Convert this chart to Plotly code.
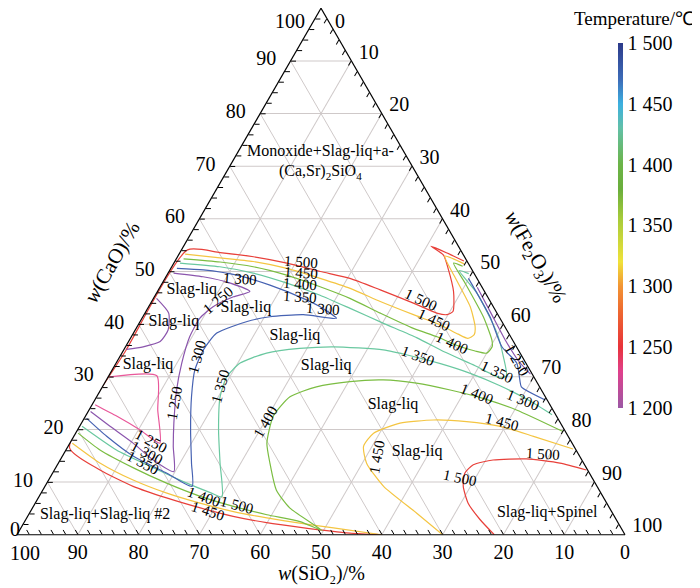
import plotly.graph_objects as go

# isotherm curves: w(CaO) and w(Fe2O3) in %, w(SiO2) is the remainder (sum = 100)
t1500_main_cao = [0, 0.3, 1.4, 2.3, 3.5, 5.1, 7.0, 9.2, 12.3, 16.5, 35.0, 54.1, 53.6, 52.8, 51.6,
                  50.0, 48.7, 46.5, 44.0, 42.1, 41.8, 42.4, 46.2, 50.6, 53.1, 54.8, 53.5, 52.0]
t1500_main_fe = [60.0, 54.6, 45.9, 39.9, 33.8, 27.6, 21.1, 14.5, 7.5, 0.4, 0.4, 1.0, 6.6, 12.5, 18.6,
                 24.9, 30.4, 36.5, 43.2, 48.0, 49.8, 50.5, 48.7, 45.6, 43.6, 40.7, 44.0, 47.5]
t1500_right_cao = [0, 2.9, 6.0, 9.2, 11.7, 13.3, 14.2, 14.4, 13.6, 12.3]
t1500_right_fe = [78.5, 74.7, 71.2, 68.8, 67.8, 68.4, 71.2, 76.6, 82.5, 87.5]

t1450_low_cao = [0, 1.3, 2.2, 3.2, 4.4, 6.0, 7.9, 10.4, 13.6, 17.4]
t1450_low_fe = [60.0, 51.4, 45.4, 39.5, 33.4, 27.1, 20.7, 13.9, 6.9, 0.4]
t1450_up_cao = [53.3, 52.6, 51.9, 50.6, 48.7, 46.8, 44.3, 41.8, 39.9, 38.1, 37.3, 38.0, 39.5, 43.3, 49.0, 52.9, 51.4]
t1450_up_fe = [1.0, 7.1, 12.9, 19.1, 25.5, 31.4, 37.6, 44.3, 49.6, 53.5, 55.5, 56.2, 55.6, 52.9, 47.5, 43.9, 47.9]
t1450_right_cao = [0, 4.1, 9.2, 13.6, 16.8, 19.3, 21.2, 21.8, 21.5, 20.6, 18.7, 16.3]
t1450_right_fe = [70.0, 63.7, 55.7, 50.7, 48.6, 49.0, 52.4, 57.6, 63.2, 69.2, 75.6, 83.3]

t1400_up_cao = [52.4, 51.8, 50.9, 49.3, 47.1, 44.9, 42.1, 39.2, 37.6, 36.1, 34.9, 34.5, 35.7, 37.0, 41.4, 47.8, 51.6, 51.0]
t1400_up_fe = [1.2, 7.5, 13.4, 19.7, 26.3, 32.3, 38.7, 45.6, 50.3, 54.0, 57.9, 60.0, 60.3, 59.6, 56.0, 49.8, 46.0, 47.8]
t1400_big_cao = [19.3, 16.1, 12.7, 9.8, 7.3, 5.4, 3.8, 2.5, 0.8, 5.1, 8.5, 13.6, 17.4, 22.5, 26.2, 28.1,
                 29.1, 29.4, 28.8, 27.5, 25.9, 23.7, 19.6]
t1400_big_fe = [0.4, 5.6, 12.8, 19.7, 26.5, 32.9, 39.2, 45.3, 49.8, 42.3, 38.4, 34.8, 32.4, 30.9, 31.8, 35.2,
                40.2, 45.5, 51.3, 57.5, 63.7, 70.3, 80.0]

t1350_up_cao = [51.6, 50.9, 49.7, 47.8, 45.5, 43.0, 40.2, 37.4, 34.7, 32.1, 29.8, 30.2, 33.8, 38.3, 45.9, 50.2, 49.6]
t1350_up_fe = [1.0, 7.9, 14.0, 20.5, 27.1, 33.3, 40.1, 47.1, 53.0, 59.3, 64.6, 65.4, 63.1, 59.8, 52.7, 47.6, 49.5]
t1350_mid_cao = [20.6, 16.1, 13.0, 10.1, 8.0, 7.2, 13.6, 19.9, 26.2, 30.0, 32.6, 34.5, 35.4, 35.7, 35.1,
                 34.0, 32.5, 30.7, 28.3, 25.4, 22.8]
t1350_mid_fe = [0.4, 8.3, 15.4, 22.3, 27.8, 30.1, 26.6, 23.2, 20.3, 19.5, 20.4, 23.8, 28.8, 34.2, 42.7,
                47.7, 53.4, 59.1, 65.3, 71.7, 76.6]

t1300_left_cao = [22.1, 18.7, 14.9, 11.7, 9.2, 13.6, 19.9, 26.2, 31.3, 35.1, 38.3, 40.5, 41.4, 41.8, 41.1,
                  43.3, 44.9, 47.4, 49.3, 50.3, 50.6]
t1300_left_fe = [0.4, 5.4, 11.7, 18.8, 24.2, 21.9, 18.6, 15.6, 13.6, 13.1, 13.7, 17.6, 20.9, 26.2, 32.0,
                 28.2, 24.6, 17.9, 11.5, 5.5, 1.0]
t1300_right_cao = [48.7, 41.4, 35.7, 32.6, 29.4, 28.1, 25.6]
t1300_right_fe = [49.9, 57.1, 61.9, 65.9, 68.0, 68.9, 74.1]

t1250_big_cao = [23.4, 20.6, 17.4, 14.2, 12.0, 16.8, 21.2, 27.5, 32.6, 37.6, 41.1, 43.3, 45.2, 46.2, 47.8, 49.0, 49.7]
t1250_big_fe = [0.4, 5.0, 10.4, 15.3, 19.8, 17.3, 15.2, 12.5, 10.8, 9.6, 9.5, 10.6, 13.0, 15.2, 11.2, 6.1, 0.9]
t1250_loop_cao = [44.9, 42.1, 38.9, 36.7, 35.7, 35.2]
t1250_loop_fe = [0.5, 3.9, 5.4, 5.2, 2.9, 0.4]
t1250_right_cao = [47.0, 42.0, 37.0, 33.0, 30.5]
t1250_right_fe = [52.2, 57.0, 61.8, 66.0, 69.2]

t1200_cao = [30.0, 30.2, 23.7, 17.4, 19.9, 22.5, 24.7]
t1200_fe = [0.3, 7.9, 11.3, 14.8, 10.3, 5.2, 0.5]

curves = [
    (1500, t1500_main_cao, t1500_main_fe), (1500, t1500_right_cao, t1500_right_fe),
    (1450, t1450_low_cao, t1450_low_fe), (1450, t1450_up_cao, t1450_up_fe),
    (1450, t1450_right_cao, t1450_right_fe),
    (1400, t1400_up_cao, t1400_up_fe), (1400, t1400_big_cao, t1400_big_fe),
    (1350, t1350_up_cao, t1350_up_fe), (1350, t1350_mid_cao, t1350_mid_fe),
    (1300, t1300_left_cao, t1300_left_fe), (1300, t1300_right_cao, t1300_right_fe),
    (1250, t1250_big_cao, t1250_big_fe), (1250, t1250_loop_cao, t1250_loop_fe),
    (1250, t1250_right_cao, t1250_right_fe),
    (1200, t1200_cao, t1200_fe),
]
line_colors = {1500: '#e8403a', 1450: '#f4c542', 1400: '#7bbd42', 1350: '#6ac8a0',
               1300: '#4662b2', 1250: '#8b55ad', 1200: '#e9589a'}

# isotherm labels
lab_text = ['1 500', '1 450', '1 400', '1 350', '1 300', '1 300', '1 250', '1 250', '1 300', '1 350',
            '1 400', '1 250', '1 300', '1 350', '1 400', '1 500', '1 450', '1 500', '1 450', '1 400',
            '1 350', '1 350', '1 400', '1 300', '1 250', '1 450', '1 500', '1 450', '1 500']
lab_cao = [51.8, 49.7, 47.6, 45.2, 42.9, 48.6, 44.6, 25.1, 33.8, 28.3, 21.4, 17.8, 15.6, 13.7, 7.2,
           5.7, 4.6, 44.6, 40.8, 36.4, 34.0, 30.9, 26.8, 25.6, 33.2, 21.4, 15.4, 14.8, 10.8]
lab_fe = [20.8, 21.9, 22.7, 24.0, 28.9, 12.4, 10.8, 13.3, 12.7, 19.3, 30.2, 13.1, 13.6, 13.9, 27.2,
          33.3, 29.1, 44.2, 48.2, 53.3, 49.0, 63.5, 62.3, 70.4, 65.6, 69.1, 78.8, 51.8, 67.5]
lab_angle = [4, 4, 4, 4, 4, 4, -40, -80, -75, -75, -60, 28, 28, 28, 20, 15, 18, 25, 25, 25,
             20, 25, 22, 22, 60, 15, 3, -80, 12]

# phase field labels
region_text = ['Monoxide+Slag-liq+a-<br>(Ca,Sr)<sub>2</sub>SiO<sub>4</sub>', 'Slag-liq', 'Slag-liq',
               'Slag-liq', 'Slag-liq', 'Slag-liq', 'Slag-liq', 'Slag-liq', 'Slag-liq',
               'Slag-liq+Slag-liq #2', 'Slag-liq+Spinel']
region_cao = [70.8, 46.5, 40.4, 32.3, 43.1, 37.8, 32.1, 24.7, 15.8, 3.8, 4.2]
region_fe = [14.5, 5.5, 5.6, 5.4, 16.1, 26.8, 34.8, 49.5, 57.9, 12.6, 85.1]

# axis ticks (the corner values are written separately so they stay on the page)
cao_ticks = [10, 20, 30, 40, 50, 60, 70, 80, 90]
sio2_ticks = [0, 10, 20, 30, 40, 50, 60, 70, 80, 90]
fe_ticks = [10, 20, 30, 40, 50, 60, 70, 80, 90, 100]

cbar_vals = [1200, 1250, 1300, 1350, 1400, 1450, 1500]
cbar_text = ['1 200', '1 250', '1 300', '1 350', '1 400', '1 450', '1 500']
cbar_scale = [[0.0, '#9b58a5'], [0.1, '#e0408c'], [0.167, '#e8333a'], [0.267, '#ee6a30'],
              [0.333, '#f29434'], [0.4, '#f0e23a'], [0.517, '#a8cc3a'], [0.6, '#6aae3c'],
              [0.667, '#6cb447'], [0.767, '#62c0a8'], [0.833, '#3cb0e0'], [0.9, '#3d6cb8'],
              [1.0, '#2c3a8a']]

FONT = 'Liberation Serif'

fig = go.Figure()

for temp, a_vals, c_vals in curves:
    fig.add_trace(go.Scatterternary(
        a=a_vals, c=c_vals, mode='lines',
        line=dict(color=line_colors[temp], width=1.2, shape='spline', smoothing=0.6),
        hoverinfo='skip'))

fig.add_trace(go.Scatterternary(
    a=region_cao, c=region_fe, mode='text', text=region_text,
    textfont=dict(family=FONT, size=16, color='black'), hoverinfo='skip'))

# invisible trace on the overlay ternary, carries the minor ticks and the colour bar
fig.add_trace(go.Scatterternary(
    a=[100, 100], b=[0, 0], c=[0, 0], subplot='ternary2', mode='markers',
    marker=dict(size=1, opacity=0, color=[1200, 1500], cmin=1200, cmax=1500,
                colorscale=cbar_scale, showscale=True,
                colorbar=dict(thickness=5, lenmode='pixels', len=365, x=0.9885, xanchor='left',
                              xpad=0, y=0.5873, yanchor='middle', ypad=0, outlinewidth=0,
                              ticks='', tickvals=cbar_vals, ticktext=cbar_text,
                              tickfont=dict(family=FONT, size=20, color='black'))),
    hoverinfo='skip'))


def main_axis(vals, ticklen):
    return dict(title=dict(text=''), tickmode='array', tickvals=vals,
                ticks='outside' if ticklen else '', ticklen=ticklen, tickcolor='rgba(0,0,0,0)',
                showgrid=True, gridcolor='#cfc9c9', gridwidth=1, linecolor='black',
                linewidth=1.2, tickfont=dict(family=FONT, size=20, color='black'), min=0)


def minor_axis():
    return dict(title=dict(text=''), tickmode='linear', tick0=0, dtick=2, ticks='inside',
                ticklen=5, tickcolor='black', tickwidth=1, showgrid=False, showline=False,
                showticklabels=False, min=0)


def to_paper(a, c):
    return (c + a / 2) / 100, a / 100


annotations = []
for t, a, c, ang in zip(lab_text, lab_cao, lab_fe, lab_angle):
    x, y = to_paper(a, c)
    annotations.append(dict(x=x, y=y, xref='paper', yref='paper', text=t, textangle=ang,
                            xanchor='center', yanchor='middle', showarrow=False,
                            font=dict(family=FONT, size=15, color='black')))

tick_font = dict(family=FONT, size=20, color='black')
title_font = dict(family=FONT, size=21, color='black')
annotations += [
    # corner tick values
    dict(x=0.449, y=1.0, xref='paper', yref='paper', text='100', xanchor='center', yanchor='top',
         showarrow=False, font=tick_font),
    dict(x=0.531, y=1.0, xref='paper', yref='paper', text='0', xanchor='center', yanchor='top',
         showarrow=False, font=tick_font),
    dict(x=-0.0148, y=0.012, xref='paper', yref='paper', text='0', xanchor='left', yanchor='middle',
         showarrow=False, font=tick_font),
    dict(x=-0.0148, y=-0.034, xref='paper', yref='paper', text='100', xanchor='left',
         yanchor='middle', showarrow=False, font=tick_font),
    # axis titles
    dict(x=0.1563, y=0.518, xref='paper', yref='paper', text='<i>w</i>(CaO)/%', textangle=-60,
         xanchor='center', yanchor='middle', showarrow=False, font=title_font),
    dict(x=0.852, y=0.5275, xref='paper', yref='paper',
         text='<i>w</i>(Fe<sub>2</sub>O<sub>3</sub>)/%', textangle=60,
         xanchor='center', yanchor='middle', showarrow=False, font=title_font),
    dict(x=0.5016, y=-0.0987, xref='paper', yref='paper', text='<i>w</i>(SiO₂)/%',
         xanchor='center', yanchor='bottom', showarrow=False,
         font=dict(family=FONT, size=20, color='black')),
    dict(x=1.0148, y=0.981, xref='paper', yref='paper', text='Temperature/℃',
         xanchor='center', yanchor='middle', showarrow=False,
         font=dict(family=FONT, size=19, color='black')),
]

fig.update_layout(
    width=700, height=588,
    margin=dict(l=9, r=83, t=0, b=61),
    paper_bgcolor='white',
    font=dict(family=FONT, size=20, color='black'),
    showlegend=False,
    ternary=dict(sum=100, bgcolor='white', domain=dict(x=[0, 1], y=[0, 1]),
                 aaxis=main_axis(cao_ticks, 11), baxis=main_axis(sio2_ticks, 0),
                 caxis=main_axis(fe_ticks, 8)),
    ternary2=dict(sum=100, bgcolor='rgba(0,0,0,0)', domain=dict(x=[0, 1], y=[0, 1]),
                  aaxis=minor_axis(), baxis=minor_axis(), caxis=minor_axis()),
    annotations=annotations,
)

fig.write_html("out.html")
